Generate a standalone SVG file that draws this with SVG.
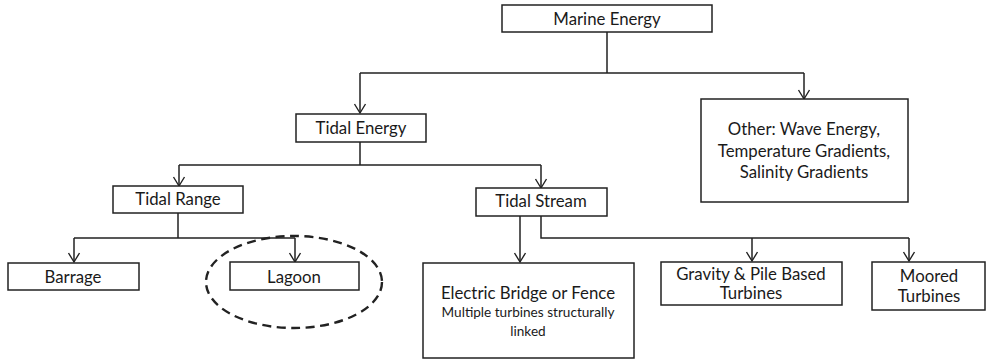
<svg xmlns="http://www.w3.org/2000/svg" width="988" height="360" viewBox="0 0 988 360">
<style>
.box{fill:#fff;stroke:#222;stroke-width:1.5}
.t{font-family:Lato,"Liberation Sans",sans-serif;font-size:16.8px;fill:#1a1a1a;text-anchor:middle}
.s{font-size:13.6px}
.c{fill:none;stroke:#222;stroke-width:1.5}
</style>
<defs>
<marker id="ah" viewBox="-11 -7 13 14" markerWidth="13" markerHeight="14" refX="0" refY="0" orient="auto" markerUnits="userSpaceOnUse">
<path d="M-9,-5.5 L0,0 L-9,5.5" fill="none" stroke="#222" stroke-width="1.4"/>
</marker>
</defs>
<rect width="988" height="360" fill="#fff"/>
<g id="connectors">
<path class="c" d="M607,32 V73 M360,73 H804"/>
<path class="c" d="M360,73 V113" marker-end="url(#ah)"/>
<path class="c" d="M804,73 V99" marker-end="url(#ah)"/>
<path class="c" d="M360,142 V165 M179,165 H541"/>
<path class="c" d="M179,165 V186" marker-end="url(#ah)"/>
<path class="c" d="M541,165 V188" marker-end="url(#ah)"/>
<path class="c" d="M178,213 V238 M74,238 H295"/>
<path class="c" d="M74,238 V262" marker-end="url(#ah)"/>
<path class="c" d="M295,238 V262" marker-end="url(#ah)"/>
<path class="c" d="M520,216 V262" marker-end="url(#ah)"/>
<path class="c" d="M541,216 V238 H909"/>
<path class="c" d="M752,238 V261" marker-end="url(#ah)"/>
<path class="c" d="M909,238 V261" marker-end="url(#ah)"/>
</g>
<g id="marine-energy">
<rect class="box" x="502" y="5" width="210" height="27"/>
<text class="t" x="607" y="25">Marine Energy</text>
</g>
<g id="tidal-energy">
<rect class="box" x="296" y="114" width="130" height="28"/>
<text class="t" x="361" y="134">Tidal Energy</text>
</g>
<g id="other">
<rect class="box" x="701" y="99" width="207" height="103"/>
<text class="t" x="804" y="135">Other: Wave Energy,</text>
<text class="t" x="804" y="157">Temperature  Gradients,</text>
<text class="t" x="804" y="178">Salinity Gradients</text>
</g>
<g id="tidal-range">
<rect class="box" x="113" y="186" width="130" height="27"/>
<text class="t" x="178" y="205">Tidal Range</text>
</g>
<g id="tidal-stream">
<rect class="box" x="476" y="188" width="131" height="28"/>
<text class="t" x="541" y="207">Tidal Stream</text>
</g>
<g id="barrage">
<rect class="box" x="8" y="263" width="131" height="27"/>
<text class="t" x="73" y="283">Barrage</text>
</g>
<g id="lagoon">
<ellipse cx="294" cy="282" rx="88" ry="46" fill="none" stroke="#222" stroke-width="2.4" stroke-dasharray="9,5.5"/>
<rect class="box" x="230" y="262" width="129" height="28"/>
<text class="t" x="294" y="283">Lagoon</text>
</g>
<g id="electric-bridge">
<rect class="box" x="423" y="263" width="211" height="95"/>
<text class="t" x="528" y="299">Electric Bridge or Fence</text>
<text class="t s" x="528" y="317">Multiple turbines structurally</text>
<text class="t s" x="528" y="336">linked</text>
</g>
<g id="gravity-pile">
<rect class="box" x="661" y="262" width="181" height="43"/>
<text class="t" x="751" y="280">Gravity &amp; Pile Based</text>
<text class="t" x="751" y="299">Turbines</text>
</g>
<g id="moored">
<rect class="box" x="872" y="262" width="113" height="48"/>
<text class="t" x="929" y="282">Moored</text>
<text class="t" x="929" y="302">Turbines</text>
</g>
</svg>
